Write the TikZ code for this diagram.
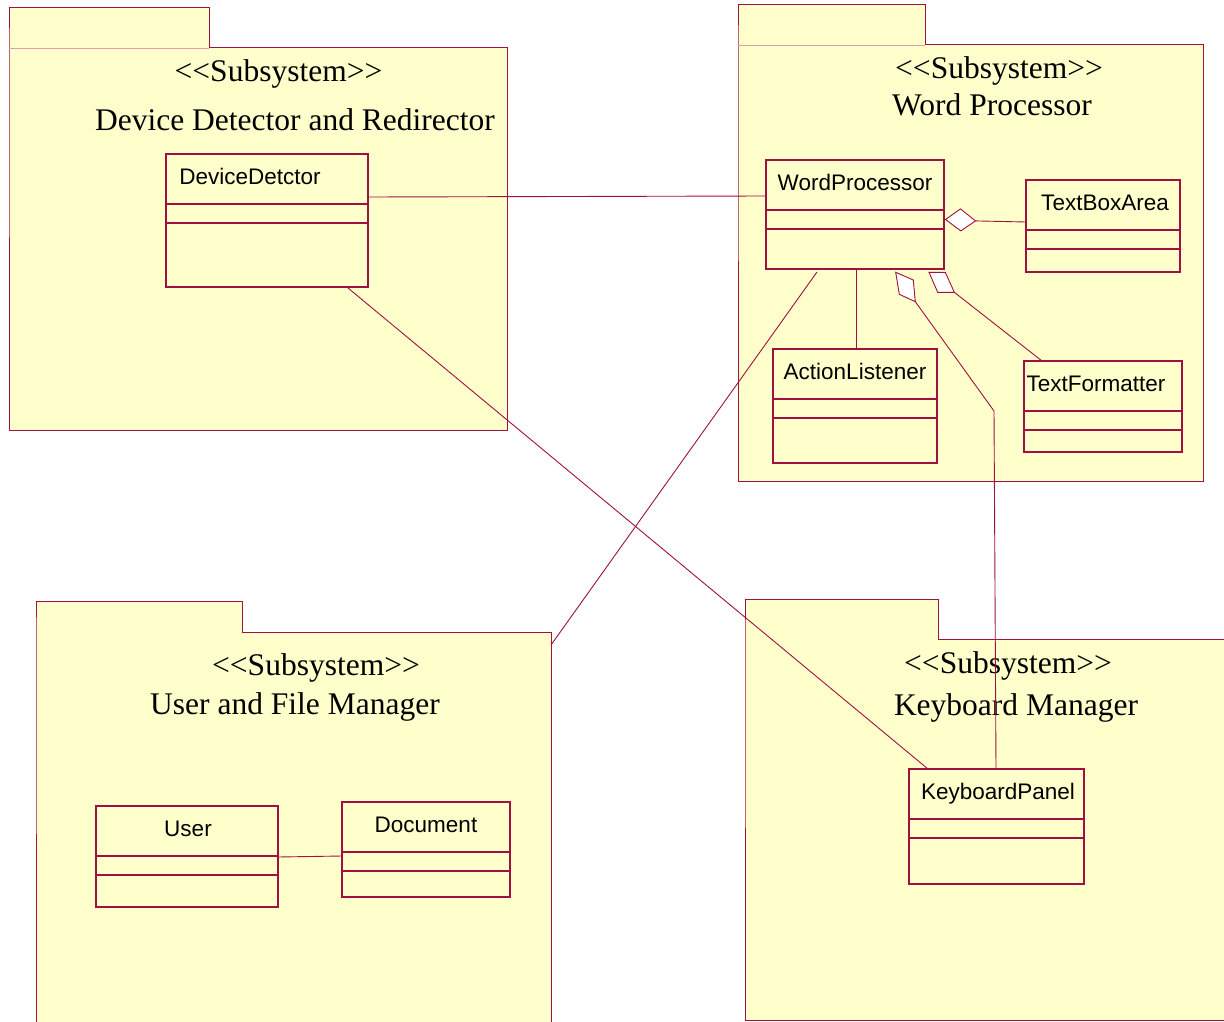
\documentclass[tikz,border=0pt]{standalone}
\usepackage{fontspec}
\setmainfont{Liberation Serif}
\newfontfamily\classfont{Liberation Sans}
\usetikzlibrary{calc}

\definecolor{umlline}{RGB}{160,16,64}
\definecolor{umlfaint}{RGB}{225,160,175}
\definecolor{umlfill}{RGB}{255,255,204}

\tikzset{
  x=1pt, y=-1pt,
  assoc/.style={draw=umlline, line width=0.9pt},
  pkgshape/.style={draw=umlline, fill=umlfill, line width=1pt},
  classbox/.style={draw=umlline, fill=umlfill, line width=1.3pt, rectangle,
                   inner sep=0pt, outer sep=0pt, anchor=north west},
  classlabel/.style={anchor=base, inner sep=0pt, font=\classfont\fontsize{22.5}{27}\selectfont},
  pkglabel/.style={anchor=base, inner sep=0pt, font=\fontsize{31.5}{36}\selectfont},
  agg/.style={draw=umlline, fill=white, line width=0.9pt, line join=miter},
}

% stereotype text, with the angle brackets kept apart
\newcommand{\stereo}[1]{<{}<#1>{}>}

% package: left, tab top, tab right, body top, right, bottom
\newcommand{\umlpackage}[6]{%
  \path[pkgshape] (#1,#4) -- (#1,#2) -- (#3,#2) -- (#3,#4) -- (#5,#4) -- (#5,#6) -- (#1,#6) -- cycle;
}

% class: name, x, y, width, height, label x, label
\newcommand{\umlclass}[7]{%
  \node[classbox, minimum width=#4pt, minimum height=#5pt] (#1) at (#2,#3) {};
  \draw[umlline, line width=1.1pt] ($(#1.north west)+(0,50)$) -- ($(#1.north east)+(0,50)$);
  \draw[umlline, line width=1.1pt] ($(#1.north west)+(0,69)$) -- ($(#1.north east)+(0,69)$);
  \node[classlabel] (#1-name) at (#6,{#3+30.5}) {#7};
}

\begin{document}
\begin{tikzpicture}
\useasboundingbox (0,0) rectangle (1224,1022);
\fill[white] (0,0) rectangle (1224,1022);
\clip (0,0) rectangle (1224,1022);

% subsystem packages
\umlpackage{9}{8}{209}{48}{507}{430}
\draw[umlfaint, line width=0.8pt] (9,48) -- (209,48);
\node[pkglabel] (ddr-st) at (278.5,82) {\stereo{Subsystem}};
\node[pkglabel] (ddr-name) at (295,130.5) {Device Detector and Redirector};

\umlpackage{738}{5}{925}{45}{1203}{481}
\draw[umlfaint, line width=0.8pt] (738,45) -- (925,45);
\node[pkglabel] (wpp-st) at (999,79) {\stereo{Subsystem}};
\node[pkglabel] (wpp-name) at (992,116) {Word Processor};

\umlpackage{36}{601}{242}{632}{551}{1040}
\node[pkglabel] (ufm-st) at (316,675) {\stereo{Subsystem}};
\node[pkglabel] (ufm-name) at (295,714) {User and File Manager};

\umlpackage{745}{599}{938}{639}{1240}{1020}
\node[pkglabel] (kbm-st) at (1008,673) {\stereo{Subsystem}};
\node[pkglabel] (kbm-name) at (1016,715) {Keyboard Manager};

\coordinate (ufmedge) at (551,645);

% classes
\umlclass{dd}{166}{154}{202}{133}{250}{DeviceDetctor}
\umlclass{wp}{766}{160}{178}{109}{855}{WordProcessor}
\umlclass{tba}{1026}{180}{154}{92}{1105}{TextBoxArea}
\umlclass{al}{773}{349}{164}{114}{855}{ActionListener}
\umlclass{tf}{1024}{361}{158}{91}{1096}{TextFormatter}
\umlclass{usr}{96}{806}{182}{101}{188}{User}
\umlclass{doc}{342}{802}{168}{95}{426}{Document}
\umlclass{kp}{909}{769}{175}{115}{998}{KeyboardPanel}

% associations
\draw[assoc] ($(dd.north east)+(0,43)$) -- ($(wp.north west)+(0,36)$);
\draw[assoc] ($(dd.south west)+(182,1)$) -- ($(kp.north west)+(19,0)$);
\draw[assoc] ($(wp.south west)+(51,3)$) -- (ufmedge);
\draw[assoc] ($(wp.south west)+(90,0)$) -- ($(al.north west)+(83,0)$);
\draw[assoc] ($(usr.north east)+(0,51)$) -- ($(doc.north west)+(0,54)$);

% aggregations
\coordinate (aggA) at ($(wp.north east)+(1.5,59.5)$);
\draw[agg] (aggA) -- ++(15,-10.6) -- ++(15,12) coordinate (aggAend) -- ++(-14.7,10) -- cycle;
\draw[assoc] (aggAend) -- ($(tba.north west)+(0,42)$);

\coordinate (aggB) at ($(wp.south west)+(129.7,3.3)$);
\draw[agg] (aggB) -- ++(17.6,7.7) -- ++(2,21.7) coordinate (aggBend) -- ++(-16,-7.4) -- cycle;
\coordinate (kpbend) at (994,411);
\draw[assoc] (aggBend) -- (kpbend) -- ($(kp.north west)+(87,0)$);

\coordinate (aggC) at ($(wp.south west)+(163,3.3)$);
\draw[agg] (aggC) -- ++(16.3,0) -- ++(9,20) coordinate (aggCend) -- ++(-16.6,0) -- cycle;
\draw[assoc] (aggCend) -- ($(tf.north west)+(18,0)$);
\end{tikzpicture}
\end{document}
